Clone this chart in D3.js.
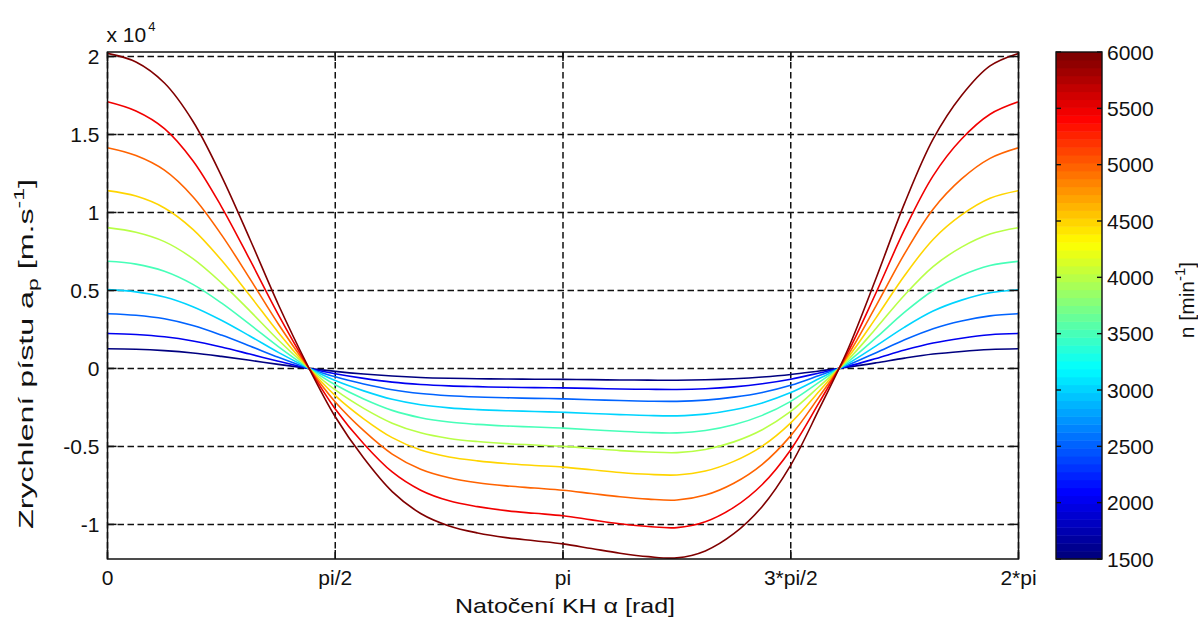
<!DOCTYPE html>
<html><head><meta charset="utf-8">
<script src="https://cdn.jsdelivr.net/npm/d3@7/dist/d3.min.js"></script>
<style>
body{margin:0;background:#fff;}
text{font-family:"Liberation Sans",Arial,Helvetica,sans-serif;fill:#111;}
</style>
</head><body>
<svg id="chart" width="1198" height="621"></svg>
<script>
// crank angle samples [rad] (k*pi/16)
const alpha = [0,0.1963,0.3927,0.5890,0.7854,0.9817,1.1781,1.3744,1.5708,1.7671,1.9635,2.1598,2.3562,2.5525,2.7489,2.9452,3.1416,3.3379,3.5343,3.7306,3.9270,4.1233,4.3197,4.5160,4.7124,4.9087,5.1051,5.3014,5.4978,5.6941,5.8905,6.0868,6.2832];
// engine speeds n [min^-1]
const speeds = [1500,2000,2500,3000,3500,4000,4500,5000,5500,6000];
// piston acceleration a_p [x 10^4 m.s^-2]
const a1500 = [0.126,0.123,0.114,0.099,0.077,0.052,0.026,0.002,-0.019,-0.036,-0.049,-0.058,-0.063,-0.066,-0.068,-0.069,-0.070,-0.072,-0.074,-0.075,-0.076,-0.073,-0.066,-0.055,-0.039,-0.016,0.008,0.036,0.066,0.092,0.109,0.121,0.126];
const a2000 = [0.224,0.218,0.203,0.176,0.137,0.092,0.046,0.003,-0.034,-0.064,-0.088,-0.103,-0.112,-0.117,-0.121,-0.123,-0.125,-0.128,-0.132,-0.134,-0.135,-0.130,-0.118,-0.098,-0.069,-0.029,0.013,0.064,0.118,0.163,0.194,0.216,0.224];
const a2500 = [0.351,0.341,0.318,0.275,0.214,0.144,0.071,0.005,-0.054,-0.100,-0.137,-0.161,-0.175,-0.183,-0.188,-0.192,-0.195,-0.201,-0.206,-0.210,-0.211,-0.203,-0.184,-0.154,-0.108,-0.045,0.021,0.101,0.184,0.255,0.304,0.337,0.351];
const a3000 = [0.505,0.491,0.458,0.396,0.309,0.208,0.103,0.008,-0.078,-0.144,-0.198,-0.233,-0.253,-0.264,-0.271,-0.276,-0.281,-0.289,-0.296,-0.302,-0.304,-0.293,-0.265,-0.221,-0.155,-0.065,0.030,0.145,0.265,0.368,0.438,0.485,0.505];
const a3500 = [0.687,0.669,0.623,0.539,0.420,0.282,0.140,0.010,-0.105,-0.196,-0.269,-0.316,-0.344,-0.359,-0.369,-0.376,-0.383,-0.393,-0.403,-0.411,-0.413,-0.398,-0.361,-0.301,-0.211,-0.088,0.041,0.197,0.361,0.500,0.596,0.660,0.687];
const a4000 = [0.903,0.873,0.813,0.704,0.549,0.369,0.182,0.013,-0.138,-0.256,-0.351,-0.413,-0.449,-0.469,-0.482,-0.491,-0.500,-0.513,-0.527,-0.536,-0.540,-0.520,-0.471,-0.393,-0.276,-0.116,0.053,0.258,0.471,0.653,0.778,0.862,0.903];
const a4500 = [1.140,1.105,1.029,0.892,0.695,0.467,0.231,0.017,-0.174,-0.323,-0.444,-0.523,-0.568,-0.593,-0.610,-0.622,-0.633,-0.650,-0.667,-0.679,-0.683,-0.658,-0.596,-0.498,-0.349,-0.146,0.068,0.326,0.596,0.827,0.984,1.091,1.140];
const a5000 = [1.415,1.365,1.271,1.101,0.858,0.576,0.285,0.021,-0.215,-0.399,-0.549,-0.646,-0.701,-0.733,-0.753,-0.767,-0.781,-0.802,-0.823,-0.838,-0.844,-0.812,-0.736,-0.615,-0.431,-0.181,0.083,0.403,0.736,1.021,1.215,1.347,1.415];
const a5500 = [1.710,1.651,1.538,1.332,1.038,0.697,0.345,0.025,-0.260,-0.483,-0.664,-0.781,-0.849,-0.886,-0.912,-0.929,-0.945,-0.971,-0.996,-1.014,-1.021,-0.983,-0.891,-0.744,-0.521,-0.218,0.101,0.487,0.891,1.235,1.471,1.630,1.710];
const a6000 = [2.020,1.965,1.830,1.585,1.235,0.830,0.410,0.030,-0.310,-0.575,-0.790,-0.930,-1.010,-1.055,-1.085,-1.105,-1.125,-1.155,-1.185,-1.207,-1.215,-1.170,-1.060,-0.885,-0.620,-0.260,0.120,0.580,1.060,1.470,1.750,1.940,2.020];
const series = [a1500,a2000,a2500,a3000,a3500,a4000,a4500,a5000,a5500,a6000];

const xTickVals = [0, Math.PI/2, Math.PI, 3*Math.PI/2, 2*Math.PI];
const xTickLabels = ["0","pi/2","pi","3*pi/2","2*pi"];
const yTickVals = [-1,-0.5,0,0.5,1,1.5,2];
const yTickLabels = ["-1","-0.5","0","0.5","1","1.5","2"];
const cbTickVals = [1500,2000,2500,3000,3500,4000,4500,5000,5500,6000];

const svg = d3.select("#chart");
const L=107.5, R=1018.5, T=52, B=559;
const x = d3.scaleLinear().domain([0, 2*Math.PI]).range([L, R]);
const y = d3.scaleLinear().domain([-1.222, 2.029]).range([B, T]);

// jet colormap
const jet = d3.scaleLinear().domain([0,0.125,0.375,0.625,0.875,1])
  .range(["#000080","#0000ff","#00ffff","#ffff00","#ff0000","#800000"]).interpolate(d3.interpolateRgb).clamp(true);
const nScale = d3.scaleLinear().domain([1500,6000]).range([0,1]);
const jet64 = t => jet(Math.min(63, Math.floor(t*64))/63);

// grid
const g = svg.append("g");
const gridStyle = s => s.attr("stroke","#111").attr("stroke-width",1.5).attr("stroke-dasharray","6.5,3.5");
g.selectAll(".gx").data(xTickVals).join("line")
  .attr("x1",d=>x(d)).attr("x2",d=>x(d)).attr("y1",T).attr("y2",B).call(gridStyle);
g.selectAll(".gy").data(yTickVals).join("line")
  .attr("x1",L).attr("x2",R).attr("y1",d=>y(d)).attr("y2",d=>y(d)).call(gridStyle);

// curves
const line = d3.line().x((d,i)=>x(alpha[i])).y(d=>y(d)).curve(d3.curveCatmullRom.alpha(0.5));
svg.append("g").selectAll("path").data(series).join("path")
  .attr("d", line).attr("fill","none")
  .attr("stroke",(d,i)=>jet64(nScale(speeds[i])))
  .attr("stroke-width",1.6);

// box + ticks
const ax = svg.append("g").attr("stroke","#111").attr("stroke-width",1.5);
ax.append("rect").attr("x",L).attr("y",T).attr("width",R-L).attr("height",B-T).attr("fill","none");
const tk = 9;
xTickVals.forEach(v=>{
  ax.append("line").attr("x1",x(v)).attr("x2",x(v)).attr("y1",B).attr("y2",B-tk);
  ax.append("line").attr("x1",x(v)).attr("x2",x(v)).attr("y1",T).attr("y2",T+tk);
});
yTickVals.forEach(v=>{
  ax.append("line").attr("x1",L).attr("x2",L+tk).attr("y1",y(v)).attr("y2",y(v));
  ax.append("line").attr("x1",R).attr("x2",R-tk).attr("y1",y(v)).attr("y2",y(v));
});

const fs = 21;
// tick labels
svg.append("g").selectAll("text").data(xTickVals).join("text")
  .attr("x",d=>x(d)).attr("y",B+26).attr("text-anchor","middle").attr("font-size",fs)
  .text((d,i)=>xTickLabels[i]);
svg.append("g").selectAll("text").data(yTickVals).join("text")
  .attr("x",L-8).attr("y",d=>y(d)+7.5).attr("text-anchor","end").attr("font-size",fs)
  .text((d,i)=>yTickLabels[i]);

// exponent
const ex = svg.append("text").attr("x",L-1).attr("y",41.5).attr("font-size",fs);
ex.append("tspan").text("x 10");
ex.append("tspan").attr("font-size",13).attr("dy",-11).attr("dx",2).text("4");

// axis labels
svg.append("text").attr("x",565).attr("y",613).attr("text-anchor","middle").attr("font-size",fs)
  .attr("textLength",220).attr("lengthAdjust","spacingAndGlyphs")
  .text("Natočení KH α [rad]");
const yl = svg.append("text").attr("transform","translate(33,354) rotate(-90)").attr("text-anchor","middle").attr("font-size",21)
  .attr("textLength",350).attr("lengthAdjust","spacingAndGlyphs");
yl.append("tspan").text("Zrychlení pístu a");
yl.append("tspan").attr("font-size",15).attr("dy",5).text("p");
yl.append("tspan").attr("dy",-5).text(" [m.s");
yl.append("tspan").attr("font-size",15).attr("dy",-9).text("-1");
yl.append("tspan").attr("dy",9).text("]");

// colorbar
const cbL=1056, cbR=1102;
const cy = d3.scaleLinear().domain([1500,6000]).range([B,T]);
const bands = d3.range(64);
svg.append("g").selectAll("rect").data(bands).join("rect")
  .attr("x",cbL).attr("width",cbR-cbL)
  .attr("y",d=>cy(1500+(d+1)*4500/64)).attr("height",d=>cy(1500+d*4500/64)-cy(1500+(d+1)*4500/64)+0.5)
  .attr("fill",d=>jet(d/63));
const cb = svg.append("g").attr("stroke","#111").attr("stroke-width",1.4);
cb.append("rect").attr("x",cbL).attr("y",T).attr("width",cbR-cbL).attr("height",B-T).attr("fill","none");
cbTickVals.forEach(v=>{
  cb.append("line").attr("x1",cbL).attr("x2",cbL+5).attr("y1",cy(v)).attr("y2",cy(v));
  cb.append("line").attr("x1",cbR).attr("x2",cbR-5).attr("y1",cy(v)).attr("y2",cy(v));
});
svg.append("g").selectAll("text").data(cbTickVals).join("text")
  .attr("x",cbR+5).attr("y",d=>cy(d)+7.5).attr("font-size",fs).text(d=>d);
const cl = svg.append("text").attr("transform","translate(1194,300) rotate(-90)").attr("text-anchor","middle").attr("font-size",fs);
cl.append("tspan").text("n [min");
cl.append("tspan").attr("font-size",15).attr("dy",-9).text("-1");
cl.append("tspan").attr("dy",9).text("]");
</script>
</body></html>
